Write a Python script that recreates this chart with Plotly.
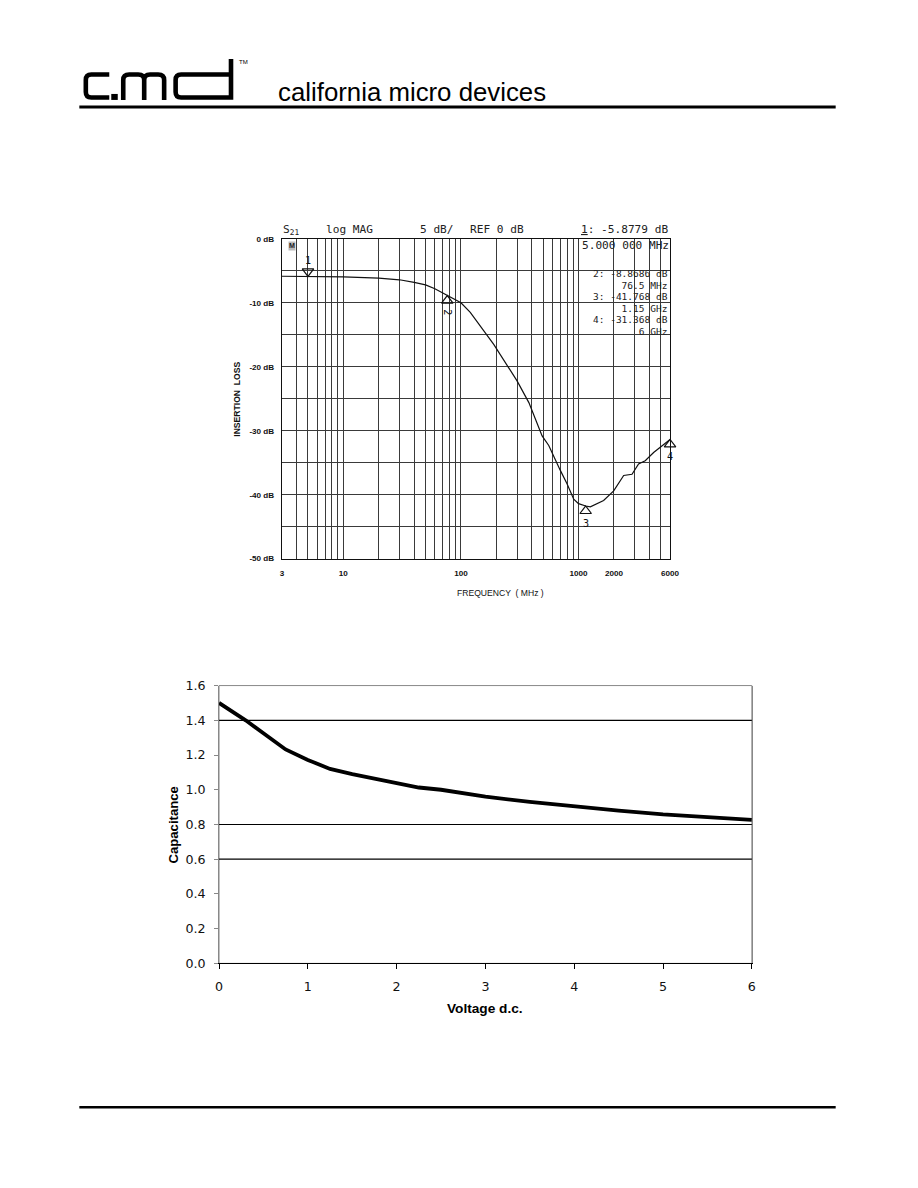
import math
import plotly.graph_objects as go

# ---------------- data: insertion loss (S21) ----------------
freq_mhz = [3, 5, 10, 20, 30, 40, 50, 60, 76.5, 100, 120, 155, 190, 300, 378, 490, 558,
            700, 798, 910, 1000, 1150, 1260, 1634, 1990, 2420, 2850, 3240, 3690, 4350, 5120, 6000]
loss_db = [-5.85, -5.88, -5.95, -6.15, -6.4, -6.8, -7.2, -7.8, -8.87, -10.0, -11.5, -14.2, -16.5,
           -22.2, -25.6, -30.8, -32.3, -36.2, -38.3, -40.7, -41.4, -41.77, -41.9, -40.9, -39.4,
           -37.0, -36.8, -35.2, -34.7, -33.4, -32.3, -31.37]

marker_ids = ["1", "2", "3", "4"]
marker_freq = [5, 76.5, 1150, 6000]
marker_db = [-5.8779, -8.8686, -41.768, -31.368]
marker_dir = ["down", "up", "up", "up"]
marker_lines = [("2: -8.8686 dB", "76.5 MHz"), ("3: -41.768 dB", "1.15 GHz"), ("4: -31.368 dB", "6 GHz")]

freq_label_vals = [3, 10, 100, 1000, 2000, 6000]
freq_label_text = ["3", "10", "100", "1000", "2000", "6000"]
freq_minor_grid = [4, 5, 6, 7, 8, 9, 20, 30, 40, 50, 60, 70, 80, 90, 200, 300, 400, 500,
                   600, 700, 800, 900, 3000, 4000, 5000]
db_label_vals = [-50, -40, -30, -20, -10, 0]
db_minor_grid = [-45, -35, -25, -15, -5]

# ---------------- data: capacitance vs voltage ----------------
voltage = [0, 0.3, 0.5, 0.75, 1.0, 1.25, 1.5, 1.75, 2.0, 2.25, 2.5, 2.75, 3.0, 3.5, 4.0, 4.5, 5.0, 5.5, 6.0]
capacitance = [1.50, 1.40, 1.325, 1.232, 1.172, 1.12, 1.09, 1.063, 1.038, 1.013, 1.0, 0.978,
               0.96, 0.93, 0.904, 0.88, 0.858, 0.842, 0.827]
cap_ticks = [0.0, 0.2, 0.4, 0.6, 0.8, 1.0, 1.2, 1.4, 1.6]
cap_grid = [0.6, 0.8, 1.4]

W, H = 918, 1188
S, OX, OY = 0.988, 2.5, 7.0   # compensation for the capture's shrink-and-centre


def px(x):
    return (x - OX) / S / W


def py(y):
    return 1 - (y - OY) / S / H


def P(x, y):
    return f"{px(x):.5f},{py(y):.5f}"


def fs(v):
    return round(v / S, 2)


ARIAL = "Liberation Sans, Arial, sans-serif"
MONO = "DejaVu Sans Mono, monospace"

fig = go.Figure()

# top chart trace
fig.add_trace(go.Scatter(x=freq_mhz, y=loss_db, mode="lines", line=dict(color="#111", width=1.2),
                         xaxis="x", yaxis="y", showlegend=False, hoverinfo="skip"))

# marker triangles (apex on the curve)
dB_per_px = 50 / 320.0
tri_off = 5 * dB_per_px
mk_y = [d + tri_off if s == "down" else d - tri_off for d, s in zip(marker_db, marker_dir)]
mk_sym = ["triangle-down-open" if s == "down" else "triangle-up-open" for s in marker_dir]
fig.add_trace(go.Scatter(x=marker_freq, y=mk_y, mode="markers",
                         marker=dict(symbol=mk_sym, size=10, color="#111", line=dict(width=1.2, color="#111")),
                         xaxis="x", yaxis="y", showlegend=False, cliponaxis=False, hoverinfo="skip"))

# bottom chart trace
fig.add_trace(go.Scatter(x=voltage, y=capacitance, mode="lines", line=dict(color="black", width=3.8),
                         xaxis="x2", yaxis="y2", showlegend=False, hoverinfo="skip"))

grid_col = "#3a3a3a"
fig.update_layout(
    width=W, height=H, margin=dict(l=0, r=0, t=0, b=0),
    paper_bgcolor="white", plot_bgcolor="white", showlegend=False,
    xaxis=dict(domain=[px(281), px(670)], anchor="y", type="log",
               range=[math.log10(3), math.log10(6000)],
               tickmode="array", tickvals=freq_label_vals,
               ticktext=[f"<b>{t}</b>" for t in freq_label_text], tickangle=0,
               showgrid=True, gridcolor=grid_col, gridwidth=1, zeroline=False,
               minor=dict(tickmode="array", tickvals=freq_minor_grid, showgrid=True,
                          gridcolor=grid_col, gridwidth=1, ticks=""),
               showline=True, linecolor="#111", linewidth=1.2, mirror=True,
               ticks="", tickfont=dict(family=ARIAL, size=fs(8), color="#111"), ticklabelstandoff=7),
    yaxis=dict(domain=[py(558), py(238)], anchor="x", range=[-50, 0],
               tickmode="array", tickvals=db_label_vals,
               ticktext=[f"<b>{v} dB</b>" for v in db_label_vals],
               showgrid=True, gridcolor=grid_col, gridwidth=1, zeroline=False,
               minor=dict(tickmode="array", tickvals=db_minor_grid, showgrid=True,
                          gridcolor=grid_col, gridwidth=1, ticks=""),
               showline=True, linecolor="#111", linewidth=1.2, mirror=True,
               ticks="", tickfont=dict(family=ARIAL, size=fs(8), color="#111"), ticklabelstandoff=5),
    xaxis2=dict(domain=[px(218), px(752)], anchor="y2", range=[0, 6], dtick=1, tick0=0,
                showgrid=False, zeroline=False, showline=True, linecolor="black", linewidth=1.2,
                ticks="outside", ticklen=5, tickcolor="black",
                tickfont=dict(family="DejaVu Sans, sans-serif", size=fs(12.5), color="#111"),
                ticklabelstandoff=6),
    yaxis2=dict(domain=[py(963), py(685)], anchor="x2", range=[0, 1.6],
                tickmode="array", tickvals=cap_ticks, ticktext=[f"{v:.1f}" for v in cap_ticks],
                showgrid=False, zeroline=False, showline=True, linecolor="#888", linewidth=1,
                mirror=True, ticks="outside", ticklen=4, tickcolor="#888",
                tickfont=dict(family="DejaVu Sans, sans-serif", size=fs(12.5), color="#111"),
                ticklabelstandoff=6),
)

# bottom chart: border (gray top) and selected gridlines
fig.add_shape(type="rect", xref="x2 domain", yref="y2 domain", x0=0, x1=1, y0=0, y1=1,
              line=dict(color="#888", width=1), layer="below")
for g in cap_grid:
    fig.add_shape(type="line", xref="x2 domain", x0=0, x1=1, yref="y2", y0=g, y1=g,
                  line=dict(color="black", width=1.2), layer="below")

ann = []
# marker numbers
for mid, f, d, s in zip(marker_ids, marker_freq, marker_db, marker_dir):
    if s == "down":
        ann.append(dict(x=math.log10(f), y=d, xref="x", yref="y", text=mid, showarrow=False,
                        yshift=16, font=dict(family=MONO, size=fs(10), color="#111")))
    else:
        ann.append(dict(x=math.log10(f), y=d, xref="x", yref="y", text=mid, showarrow=False,
                        yshift=-17, textangle=90 if mid == "2" else 0,
                        font=dict(family=MONO, size=fs(10), color="#111")))

# analyzer header row
hdr_y = 229
hdr_font = dict(family=MONO, size=fs(11), color="#222")
for txt, xx in [("S<sub>21</sub>", 280), ("log MAG", 323), ("5 dB/", 417), ("REF 0 dB", 468)]:
    ann.append(dict(x=px(xx), y=py(hdr_y), xref="paper", yref="paper", xanchor="left", yanchor="middle",
                    text=txt, showarrow=False, font=hdr_font))
ann.append(dict(x=px(670), y=py(hdr_y), xref="paper", yref="paper", xanchor="right", yanchor="middle",
                text="<span style='text-decoration:underline'>1</span>: -5.8779 dB", showarrow=False,
                font=hdr_font))
ann.append(dict(x=px(671), y=py(245), xref="paper", yref="paper", xanchor="right", yanchor="middle",
                text="5.000 000 MHz", showarrow=False, font=hdr_font))
ml_y = [279, 302, 325]
for (l1, l2), yy in zip(marker_lines, ml_y):
    ann.append(dict(x=px(670), y=py(yy), xref="paper", yref="paper", xanchor="right", yanchor="middle",
                    align="right", text=f"{l1}<br>{l2}", showarrow=False,
                    font=dict(family=MONO, size=fs(9.4), color="#222")))
ann.append(dict(x=px(291), y=py(245), xref="paper", yref="paper", xanchor="center", yanchor="middle",
                text="<b>M</b>", showarrow=False, bgcolor="#bbb", borderpad=0,
                font=dict(family=ARIAL, size=fs(7), color="#222")))

# top chart axis titles
ann.append(dict(x=px(236), y=py(398), xref="paper", yref="paper", xanchor="center", yanchor="middle",
                text="<b>INSERTION  LOSS</b>", textangle=-90, showarrow=False,
                font=dict(family=ARIAL, size=fs(8.5), color="#111")))
ann.append(dict(x=px(500), y=py(592), xref="paper", yref="paper", xanchor="center", yanchor="middle",
                text="FREQUENCY  ( MHz )", showarrow=False,
                font=dict(family=ARIAL, size=fs(8.5), color="#111")))

# bottom chart axis titles
ann.append(dict(x=px(172), y=py(824), xref="paper", yref="paper", xanchor="center", yanchor="middle",
                text="<b>Capacitance</b>", textangle=-90, showarrow=False,
                font=dict(family=ARIAL, size=fs(13), color="black")))
ann.append(dict(x=px(485), y=py(1008), xref="paper", yref="paper", xanchor="center", yanchor="middle",
                text="<b>Voltage d.c.</b>", showarrow=False,
                font=dict(family=ARIAL, size=fs(13.5), color="black")))

# header text
ann.append(dict(x=px(275), y=py(91), xref="paper", yref="paper", xanchor="left", yanchor="middle",
                text="california micro devices", showarrow=False,
                font=dict(family=ARIAL, size=fs(25.5), color="black")))
ann.append(dict(x=px(236), y=py(61), xref="paper", yref="paper", xanchor="left", yanchor="middle",
                text="TM", showarrow=False, font=dict(family=ARIAL, size=fs(6), color="black")))

fig.update_layout(annotations=ann)

# logo (decorative strokes) and page rules
lw = 4.6
logo_paths = [
    # c
    f"M{P(108,73.5)} L{P(90,73.5)} Q{P(84.5,73.5)} {P(84.5,79)} L{P(84.5,91)} Q{P(84.5,96.5)} {P(90,96.5)} L{P(108,96.5)}",
    # m
    f"M{P(122,99)} L{P(122,79)} Q{P(122,73.5)} {P(128,73.5)} L{P(137,73.5)} Q{P(143,73.5)} {P(143,79)} L{P(143,99)}"
    f" M{P(143,79)} Q{P(143,73.5)} {P(149,73.5)} L{P(157,73.5)} Q{P(163,73.5)} {P(163,79)} L{P(163,99)}",
    # d
    f"M{P(230,58)} L{P(230,96.5)} L{P(180,96.5)} Q{P(174.5,96.5)} {P(174.5,91)} L{P(174.5,79)} Q{P(174.5,73.5)} {P(180,73.5)} L{P(230,73.5)}",
]
for p in logo_paths:
    fig.add_shape(type="path", xref="paper", yref="paper", path=p, line=dict(color="black", width=lw))
fig.add_shape(type="rect", xref="paper", yref="paper", x0=px(110), x1=px(116.5), y0=py(99), y1=py(93),
              line=dict(width=0), fillcolor="black")
fig.add_shape(type="line", xref="paper", yref="paper", x0=px(78), x1=px(836), y0=py(106), y1=py(106),
              line=dict(color="black", width=3))
fig.add_shape(type="line", xref="paper", yref="paper", x0=px(78), x1=px(836), y0=py(1107), y1=py(1107),
              line=dict(color="black", width=2.5))

fig.write_html("out.html", config={"displayModeBar": False},
               post_script="document.body.style.margin='0';document.body.style.padding='0';"
                           "document.body.style.overflow='hidden';")
